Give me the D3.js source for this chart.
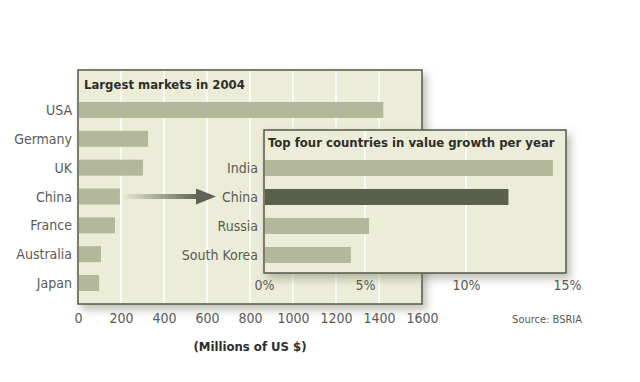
<!DOCTYPE html>
<html>
<head>
<meta charset="utf-8">
<script src="https://cdn.jsdelivr.net/npm/d3@7"></script>
<style>
  body { margin: 0; background: #ffffff; }
  svg text { font-family: "Liberation Sans Narrow", "DejaVu Sans Condensed", "Arial Narrow", sans-serif; }
  .lbl { font-size: 14px; fill: #5a5a55; }
  .ttl { font-size: 13px; font-weight: bold; fill: #2e2e2a; }
</style>
</head>
<body>
<svg id="chart" width="640" height="382"></svg>
<script>
// largest markets in 2004 (millions of US $)
var marketCountries = ["USA", "Germany", "UK", "China", "France", "Australia", "Japan"];
var marketValues = [1420, 326, 302, 195, 172, 107, 98];
var marketTicks = [0, 200, 400, 600, 800, 1000, 1200, 1400, 1600];

// top four countries in value growth per year (%)
var growthCountries = ["India", "China", "Russia", "South Korea"];
var growthValues = [14.3, 12.1, 5.2, 4.3];
var growthTicks = [0, 5, 10, 15];

var svg = d3.select("#chart");

// drop shadow for the panels
var defs = svg.append("defs");
var shadow = defs.append("filter").attr("id", "shadow")
    .attr("x", "-10%").attr("y", "-10%").attr("width", "130%").attr("height", "130%");
shadow.append("feDropShadow")
    .attr("dx", 4).attr("dy", 5).attr("stdDeviation", 4)
    .attr("flood-color", "#7d8068").attr("flood-opacity", 0.5);

var grad = defs.append("linearGradient").attr("id", "arrowGrad");
grad.append("stop").attr("offset", "0%").attr("stop-color", "#e4e5d2");
grad.append("stop").attr("offset", "100%").attr("stop-color", "#5f6352");

// main panel scales
var x1 = d3.scaleLinear().domain([0, 1600]).range([78, 422]);
var y1 = d3.scalePoint().domain(marketCountries).range([110, 283]);
var top1 = 70, bottom1 = 304;

svg.append("rect")
    .attr("x", x1(0)).attr("y", top1)
    .attr("width", x1(1600) - x1(0)).attr("height", bottom1 - top1)
    .attr("fill", "#ecedd9").attr("stroke", "#55574a").attr("stroke-width", 1.5)
    .attr("filter", "url(#shadow)");

// white gridlines
svg.append("g").selectAll("line")
    .data(marketTicks.slice(1, -1))
    .join("line")
    .attr("x1", d => x1(d)).attr("x2", d => x1(d))
    .attr("y1", top1 + 1).attr("y2", bottom1 - 1)
    .attr("stroke", "#ffffff").attr("stroke-width", 1.5);

svg.append("text").attr("class", "ttl")
    .attr("x", 84).attr("y", 89)
    .text("Largest markets in 2004");

var barH = 16;
svg.append("g").selectAll("rect")
    .data(marketValues)
    .join("rect")
    .attr("x", x1(0) + 1)
    .attr("y", (d, i) => y1(marketCountries[i]) - barH / 2)
    .attr("width", d => x1(d) - x1(0) - 1)
    .attr("height", barH)
    .attr("fill", "#b4b89b");

svg.append("g").selectAll("text")
    .data(marketCountries)
    .join("text")
    .attr("class", "lbl")
    .attr("x", 72).attr("y", d => y1(d) + 5)
    .attr("text-anchor", "end")
    .text(d => d);

// bottom axis for the main panel
var axis1 = svg.append("g")
    .attr("transform", "translate(0," + 313 + ")")
    .call(d3.axisBottom(x1).tickValues(marketTicks).tickSize(0).tickPadding(0).tickFormat(d3.format("d")));
axis1.select(".domain").remove();
axis1.selectAll("text").attr("class", "lbl").attr("fill", "#5a5a55");

svg.append("text").attr("class", "ttl")
    .attr("x", 250).attr("y", 351).attr("text-anchor", "middle")
    .text("(Millions of US $)");

// arrow from China to the inset
var ay = y1("China");
svg.append("rect")
    .attr("x", 124).attr("y", ay - 2.5).attr("width", 74).attr("height", 5)
    .attr("fill", "url(#arrowGrad)");
svg.append("path")
    .attr("d", "M196," + (ay - 8) + " L216," + ay + " L196," + (ay + 8) + " Z")
    .attr("fill", "#5f6352");

// inset panel scales
var x2 = d3.scaleLinear().domain([0, 15]).range([264, 567]);
var y2 = d3.scalePoint().domain(growthCountries).range([168, 255]);
var top2 = 130, bottom2 = 273;

svg.append("rect")
    .attr("x", x2(0)).attr("y", top2)
    .attr("width", x2(15) - x2(0) - 1).attr("height", bottom2 - top2)
    .attr("fill", "#ecedd9").attr("stroke", "#55574a").attr("stroke-width", 1.5)
    .attr("filter", "url(#shadow)");

svg.append("g").selectAll("line")
    .data(growthTicks.slice(1, -1))
    .join("line")
    .attr("x1", d => x2(d)).attr("x2", d => x2(d))
    .attr("y1", top2 + 1).attr("y2", bottom2 - 1)
    .attr("stroke", "#ffffff").attr("stroke-width", 1.5);

svg.append("text").attr("class", "ttl")
    .attr("x", 268).attr("y", 147)
    .text("Top four countries in value growth per year");

svg.append("g").selectAll("rect")
    .data(growthValues)
    .join("rect")
    .attr("x", x2(0) + 1)
    .attr("y", (d, i) => y2(growthCountries[i]) - barH / 2)
    .attr("width", d => x2(d) - x2(0) - 1)
    .attr("height", barH)
    .attr("fill", (d, i) => growthCountries[i] == "China" ? "#5b604a" : "#b4b89b");

svg.append("g").selectAll("text")
    .data(growthCountries)
    .join("text")
    .attr("class", "lbl")
    .attr("x", 258).attr("y", d => y2(d) + 5)
    .attr("text-anchor", "end")
    .text(d => d);

var axis2 = svg.append("g")
    .attr("transform", "translate(0," + 280 + ")")
    .call(d3.axisBottom(x2).tickValues(growthTicks).tickSize(0).tickPadding(0).tickFormat(d => d + "%"));
axis2.select(".domain").remove();
axis2.selectAll("text").attr("class", "lbl").attr("fill", "#5a5a55");

svg.append("text").attr("class", "lbl")
    .attr("x", 582).attr("y", 323).attr("text-anchor", "end")
    .style("font-size", "11px")
    .text("Source: BSRIA");
</script>
</body>
</html>
